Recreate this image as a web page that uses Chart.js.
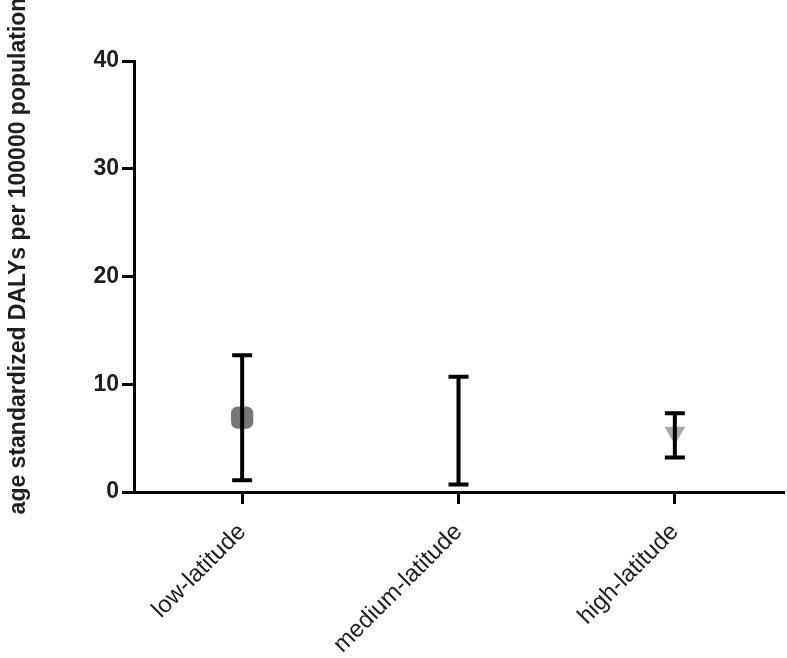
<!DOCTYPE html>
<html>
<head>
<meta charset="utf-8">
<script src="https://cdn.jsdelivr.net/npm/chart.js@4.4.1/dist/chart.umd.min.js"></script>
<style>
  body { margin: 0; background: #fff; }
  #wrap { width: 787px; height: 658px; }
</style>
</head>
<body>
<div id="wrap"><canvas id="latChart"></canvas></div>
<script>
// data
const categories = ['low-latitude', 'medium-latitude', 'high-latitude'];
const means = [6.9, 5.3, 5.5];
const upper = [12.7, 10.7, 7.3];
const lower = [1.1, 0.7, 3.2];
const yTicks = [0, 10, 20, 30, 40];
const yTitle = 'age standardized DALYs per 100000 population';

// whiskers drawn with the chart's own scales
const errorBars = {
    id: 'errorBars',
    afterDatasetsDraw(chart) {
        const { ctx, scales: { x, y } } = chart;
        ctx.save();
        ctx.strokeStyle = '#000';
        ctx.lineWidth = 4;
        categories.forEach((c, i) => {
            const px = x.getPixelForValue(i);
            const top = y.getPixelForValue(upper[i]);
            const bot = y.getPixelForValue(lower[i]);
            ctx.beginPath();
            ctx.moveTo(px, top); ctx.lineTo(px, bot);
            ctx.moveTo(px - 10, top); ctx.lineTo(px + 10, top);
            ctx.moveTo(px - 10, bot); ctx.lineTo(px + 10, bot);
            ctx.stroke();
        });
        ctx.restore();
    }
};

// y title sits a bit above the axis centre in the original
const sideTitle = {
    id: 'sideTitle',
    afterDraw(chart) {
        const c = chart.ctx;
        c.save();
        c.translate(19, 256);
        c.rotate(-Math.PI / 2);
        c.textAlign = 'center';
        c.textBaseline = 'middle';
        c.fillStyle = '#1e1e1e';
        c.font = 'bold 23px "Liberation Sans", Arial, sans-serif';
        c.fillText(yTitle, 0, 0);
        c.restore();
    }
};

const ctx = document.getElementById('latChart').getContext('2d');

const myChart = new Chart(ctx, {
    type: 'line',
    data: {
        labels: categories,
        datasets: [
            {
                label: 'mean',
                data: means,
                showLine: false,
                pointStyle: ['rectRounded', 'circle', 'triangle'],
                rotation: [0, 0, 180],
                pointRadius: [13, 1.5, 12],
                backgroundColor: ['#767676', '#e2e2e2', '#a8a8a8'],
                borderWidth: 0
            },
            {
                label: 'centre',
                data: [means[0], null, null],
                showLine: false,
                pointStyle: 'rect',
                pointRadius: 6,
                backgroundColor: '#000',
                borderWidth: 0
            }
        ]
    },
    options: {
        responsive: true,
        maintainAspectRatio: false,
        animation: false,
        layout: { autoPadding: false, padding: { top: 61, right: 4, left: 0, bottom: 0 } },
        plugins: {
            legend: { display: false },
            tooltip: { enabled: false }
        },
        scales: {
            x: {
                offset: true,
                afterFit: (s) => { s.height = 166; },
                grid: { drawOnChartArea: false, drawTicks: true, tickLength: 12, color: '#000', lineWidth: 3 },
                border: { color: '#000', width: 3 },
                ticks: {
                    color: '#1e1e1e',
                    font: { family: 'Liberation Sans, Arial', size: 24 },
                    minRotation: 45,
                    maxRotation: 45,
                    padding: 14
                }
            },
            y: {
                min: 0,
                max: 40,
                afterFit: (s) => { s.width = 134; s.paddingTop = 0; s.paddingBottom = 0; },
                afterBuildTicks: (s) => { s.ticks = yTicks.map(v => ({ value: v })); },
                grid: { drawOnChartArea: false, drawTicks: true, tickLength: 12, color: '#000', lineWidth: 3 },
                border: { color: '#000', width: 3 },
                ticks: {
                    color: '#1e1e1e',
                    font: { family: 'Liberation Sans, Arial', size: 23, weight: 'bold' },
                    padding: 3
                }
            }
        }
    },
    plugins: [errorBars, sideTitle]
});
</script>
</body>
</html>
